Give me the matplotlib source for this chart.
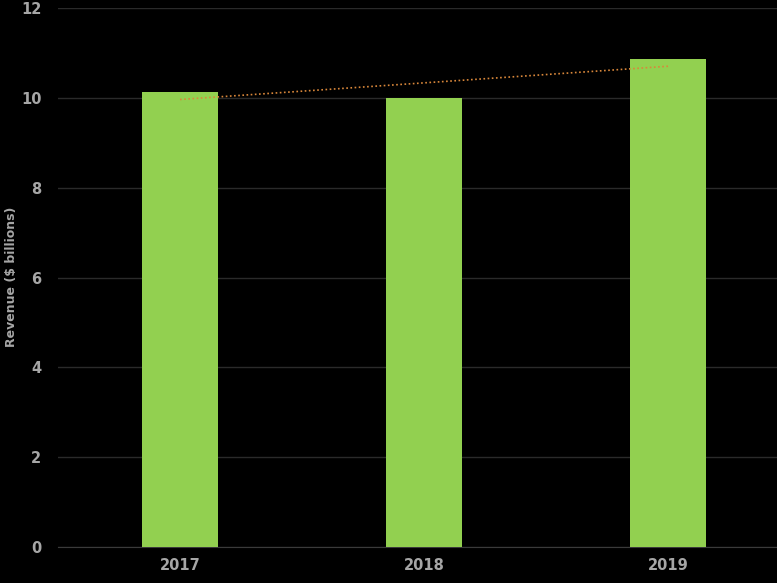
import numpy as np
import matplotlib
matplotlib.use("Agg")
import matplotlib.pyplot as plt

years = ["2017", "2018", "2019"]
revenue = [10.13, 10.0, 10.87]
y_ticks = [0, 2, 4, 6, 8, 10, 12]

fig = plt.figure(figsize=(7.77, 5.83), dpi=100, facecolor="black")
# plot area: x 58..790 px (cropped at 777), y 8..547 px
ax = fig.add_axes([58 / 777, (583 - 547) / 583, 732 / 777, 539 / 583])
ax.set_facecolor("black")

x = np.arange(1, len(years) + 1)
ax.bar(x, revenue, width=0.31, color="#92D050", zorder=3)

# linear trend line
k, b = np.polyfit(x, revenue, 1)
ax.plot(x[[0, -1]], k * x[[0, -1]] + b, linestyle=(0, (1, 1.5)), color="#D9873A",
        linewidth=1.2, zorder=4)

ax.set_xlim(0.5, 3.5)
ax.set_ylim(0, 12)
ax.set_yticks(y_ticks)
ax.set_xticks(x)
ax.set_xticklabels(years)
ax.grid(axis="y", color="#2a2a2a", linewidth=1, zorder=0)
for s in ["top", "right", "left"]:
    ax.spines[s].set_visible(False)
ax.spines["bottom"].set_color("#3a3a3a")
ax.tick_params(length=0, colors="#a6a6a6", labelsize=10.5)
ax.tick_params(axis="y", pad=12)
ax.tick_params(axis="x", pad=8)
for lbl in ax.get_xticklabels() + ax.get_yticklabels():
    lbl.set_fontweight("bold")

fig.text(12 / 777, 1 - 277 / 583, "Revenue ($ billions)", rotation=90, color="#a6a6a6",
         fontsize=9, fontweight="bold", ha="center", va="center")

fig.savefig("out.png", dpi=100, facecolor="black")
